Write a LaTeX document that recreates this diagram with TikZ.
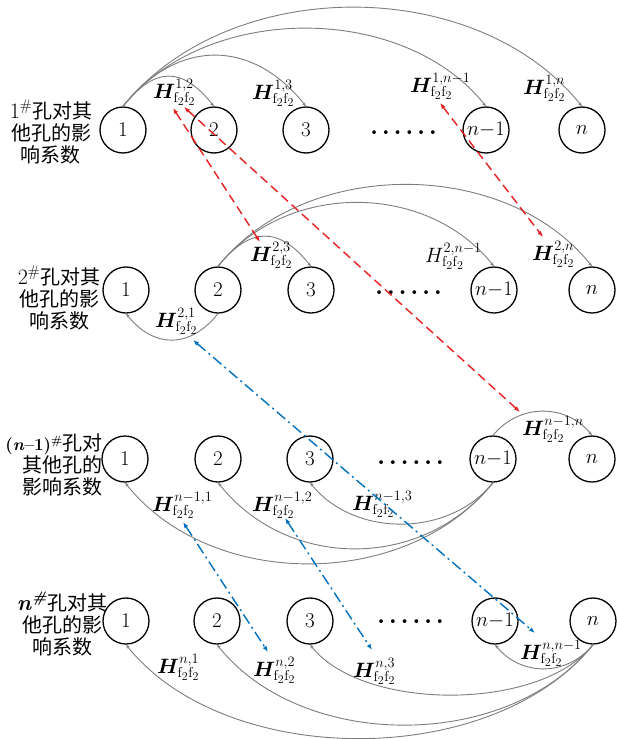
\documentclass[tikz,border=0pt]{standalone}
\usepackage{bm}
\usepackage{fontspec}
\newfontfamily\cjk{Noto Sans CJK SC}
\usetikzlibrary{arrows.meta}
\definecolor{arcgray}{RGB}{125,125,125}
\definecolor{myred}{RGB}{232,32,32}
\definecolor{myblue}{RGB}{0,112,192}
\newcommand\Hlab[1]{$\bm{H}^{#1}_{\mathrm{f}_2\mathrm{f}_2}$}
\newcommand\Hplain[1]{$H^{#1}_{\mathrm{f}_2\mathrm{f}_2}$}
\newcommand\mydots{.\hspace{3.6pt}.\hspace{3.6pt}.\hspace{3.6pt}.\hspace{3.6pt}.\hspace{3.6pt}.}
\newcommand\rowlat[1]{{\rmfamily\fontsize{22}{22}\selectfont #1}}
\newcommand\rowlatsmall[1]{{\rmfamily\fontsize{17}{22}\selectfont #1}}
\tikzset{
  hole/.style={circle,draw,line width=1.3pt,minimum size=46pt,inner sep=0pt,font=\fontsize{21}{21}\selectfont},
  hlab/.style={inner sep=0pt,anchor=base west,font=\fontsize{20.74}{22}\selectfont},
  rowtext/.style={inner sep=0pt,align=center,font=\cjk\fontsize{20}{22}\selectfont},
  dotsrow/.style={inner sep=0pt,anchor=base west,font=\bfseries\fontsize{26}{26}\selectfont},
  arc/.style={draw=arcgray,line width=0.9pt,-{Stealth[length=4pt,width=3pt]}},
  redarrow/.style={draw=myred,line width=1.4pt,dash pattern=on 9pt off 5pt,
    {Latex[length=6pt,width=4.5pt]}-{Latex[length=6pt,width=4.5pt]}},
  bluearrow/.style={draw=myblue,line width=1.4pt,dash pattern=on 11pt off 4pt on 2pt off 4pt,
    {Latex[length=6pt,width=4.5pt]}-{Latex[length=6pt,width=4.5pt]}}
}
\begin{document}
\begin{tikzpicture}[x=1pt,y=-1pt]
\useasboundingbox (0,0) rectangle (616,739);

% row texts
\node[rowtext] (t1) at (51,132) {\rowlat{1\textsuperscript{\#}}孔对其\\他孔的影\\响系数};
\node[rowtext] (t2) at (59,298) {\rowlat{2\textsuperscript{\#}}孔对其\\他孔的影\\响系数};
\node[rowtext,align=right,anchor=east] (t3) at (103,465) {\rowlatsmall{\bfseries (\textit{n}--1)\textsuperscript{\#}}孔对\\其他孔的\\影响系数};
\node[rowtext] (t4) at (62,624) {\rowlat{\bfseries\itshape n\/\textsuperscript{\#}}孔对其\\他孔的影\\响系数};

% circles
\node[hole] (a1) at (123,130) {1};
\node[hole] (a2) at (214,130) {2};
\node[hole] (a3) at (306,130) {3};
\node[hole] (am) at (486,130) {$n{-}1$};
\node[hole] (an) at (582,130) {$n$};

\node[hole] (b1) at (126,290) {1};
\node[hole] (b2) at (218,290) {2};
\node[hole] (b3) at (311,290) {3};
\node[hole] (bm) at (494,290) {$n{-}1$};
\node[hole] (bn) at (592,290) {$n$};

\node[hole] (c1) at (125,459) {1};
\node[hole] (c2) at (218,459) {2};
\node[hole] (c3) at (310,459) {3};
\node[hole] (cm) at (493,459) {$n{-}1$};
\node[hole] (cn) at (592,459) {$n$};

\node[hole] (d1) at (126,621) {1};
\node[hole] (d2) at (217,621) {2};
\node[hole] (d3) at (310,621) {3};
\node[hole] (dm) at (495,621) {$n{-}1$};
\node[hole] (dn) at (593,621) {$n$};

% dots
\node[dotsrow] (dots1) at (370,134) {\mydots};
\node[dotsrow] (dots2) at (375,294) {\mydots};
\node[dotsrow] (dots3) at (377,464) {\mydots};
\node[dotsrow] (dots4) at (377,623) {\mydots};

% arcs row 1
\draw[arc] (a1.north) .. controls +(32,-40) and +(-32,-40) .. (a2.north);
\draw[arc] (a1.north) .. controls +(54,-68) and +(-54,-68) .. (a3.north);
\draw[arc] (a1.north) .. controls +(83,-104) and +(-83,-104) .. (am.north);
\draw[arc] (a1.north) .. controls +(106,-132) and +(-106,-132) .. (an.north);
% arcs row 2
\draw[arc] (b2.south) .. controls +(-28,35) and +(28,35) .. (b1.south);
\draw[arc] (b2.north) .. controls +(32,-40) and +(-32,-40) .. (b3.north);
\draw[arc] (b2.north) .. controls +(68,-85) and +(-68,-85) .. (bm.north);
\draw[arc] (b2.north) .. controls +(87,-109) and +(-87,-109) .. (bn.north);
% arcs row 3
\draw[arc] (cm.north) .. controls +(26,-32) and +(-26,-32) .. (cn.north);
\draw[arc] (cm.south) .. controls +(-44,55) and +(44,55) .. (c3.south);
\draw[arc] (cm.south) .. controls +(-70,88) and +(70,88) .. (c2.south);
\draw[arc] (cm.south) .. controls +(-86,108) and +(86,108) .. (c1.south);
% arcs row 4
\draw[arc] (dn.south) .. controls +(-26,32) and +(26,32) .. (dm.south);
\draw[arc] (dn.south) .. controls +(-53,67) and +(53,67) .. (d3.south);
\draw[arc] (dn.south) .. controls +(-85,107) and +(85,107) .. (d2.south);
\draw[arc] (dn.south) .. controls +(-100,125) and +(100,125) .. (d1.south);

% labels
\node[hlab] (h12) at (153,98) {\Hlab{1,2}};
\node[hlab] (h13) at (252,99) {\Hlab{1,3}};
\node[hlab] (h1m) at (410,92) {\Hlab{1,n-1}};
\node[hlab] (h1n) at (523,94) {\Hlab{1,n}};
\node[hlab] (h21) at (155,327) {\Hlab{2,1}};
\node[hlab] (h23) at (250,261) {\Hlab{2,3}};
\node[hlab] (h2m) at (425,262) {\Hplain{2,n-1}};
\node[hlab] (h2n) at (532,260) {\Hlab{2,n}};
\node[hlab] (hm1) at (152,511) {\Hlab{n-1,1}};
\node[hlab] (hm2) at (252,511) {\Hlab{n-1,2}};
\node[hlab] (hm3) at (352,510) {\Hlab{n-1,3}};
\node[hlab] (hmn) at (522,435) {\Hlab{n-1,n}};
\node[hlab] (hn1) at (157,673) {\Hlab{n,1}};
\node[hlab] (hn2) at (253,676) {\Hlab{n,2}};
\node[hlab] (hn3) at (353,677) {\Hlab{n,3}};
\node[hlab] (hnm) at (520,659) {\Hlab{n,n-1}};

% cross-row arrows
\coordinate (r1s) at (173,108); \coordinate (r1e) at (260,242);
\coordinate (r2s) at (184,107); \coordinate (r2e) at (520,412);
\coordinate (r3s) at (440,103); \coordinate (r3e) at (543,237);
\coordinate (b1s) at (193,340); \coordinate (b1e) at (535,633);
\coordinate (b2s) at (183,522); \coordinate (b2e) at (268,652);
\coordinate (b3s) at (285,518); \coordinate (b3e) at (372,650);
\draw[redarrow] (r1s) -- (r1e);
\draw[redarrow] (r2s) -- (r2e);
\draw[redarrow] (r3s) -- (r3e);
\draw[bluearrow] (b1s) -- (b1e);
\draw[bluearrow] (b2s) -- (b2e);
\draw[bluearrow] (b3s) -- (b3e);
\end{tikzpicture}
\end{document}
